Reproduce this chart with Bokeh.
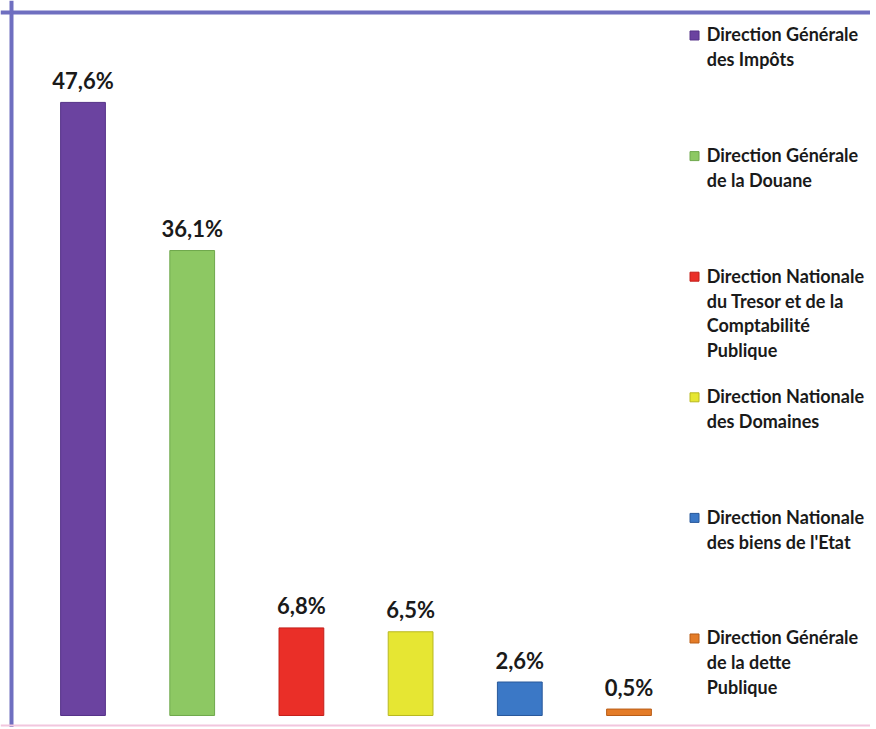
from bokeh.plotting import figure
from bokeh.models import Range1d, Span, ColumnDataSource
from bokeh.core.properties import value
from bokeh.embed import file_html
from bokeh.resources import INLINE

# ---- data ----
categories = [
    "Direction Générale\ndes Impôts",
    "Direction Générale\nde la Douane",
    "Direction Nationale\ndu Tresor et de la\nComptabilité\nPublique",
    "Direction Nationale\ndes Domaines",
    "Direction Nationale\ndes biens de l'Etat",
    "Direction Générale\nde la dette\nPublique",
]
shares = [47.6, 36.1, 6.8, 6.5, 2.6, 0.5]
share_labels = ["47,6%", "36,1%", "6,8%", "6,5%", "2,6%", "0,5%"]
colors = ["#6b43a0", "#8dc863", "#ea2f28", "#e6e633", "#3b78c6", "#e47c28"]
edge_colors = ["#553288", "#6fa84c", "#c41f1a", "#b8b820", "#28589a", "#b85e18"]

idx = list(range(len(shares)))

src = ColumnDataSource(dict(x=idx, top=shares, lab=share_labels,
                            color=colors, edge=edge_colors))

FONT = "Lato"

p = figure(width=870, height=727, output_backend="svg", toolbar_location=None,
           x_range=Range1d(-0.7555, 7.2115), y_range=Range1d(-0.932, 55.512),
           min_border=0)
p.axis.visible = False
p.grid.visible = False
p.outline_line_color = None
p.background_fill_color = "white"
p.border_fill_color = "white"

p.extra_y_ranges = {"leg": Range1d(start=5.8375, end=-0.1907)}

p.vbar(x="x", top="top", bottom=0, width=0.41, source=src,
       fill_color="color", line_color="edge", line_width=1)

p.text(x="x", y="top", text="lab", source=src, text_align="center",
       text_baseline="alphabetic", y_offset=-22,
       text_font=value(FONT), text_font_size="22px", text_font_style="bold",
       text_color="#1a1a1a")

# legend (manual, evenly spaced items)
leg_src = ColumnDataSource(dict(
    k=idx,
    km=[k + 12 / 120.6 for k in idx],
    lx=[5.600] * len(idx),
    tx=[5.712] * len(idx),
    text=categories,
    color=colors,
    edge=edge_colors,
))
p.scatter(x="lx", y="km", marker="square", size=9, source=leg_src,
          fill_color="color", line_color="edge", y_range_name="leg")
p.text(x="tx", y="k", text="text", source=leg_src, y_range_name="leg",
       text_align="left", text_baseline="top", text_font=value(FONT),
       text_font_size="18px", text_font_style="bold", text_line_height=1.13,
       text_color="#1a1a1a")

# frame border (top + left + faint bottom)
p.add_layout(Span(location=54.58, dimension="width", line_color="#6f6fc0",
                  line_width=4))
p.add_layout(Span(location=-0.6548, dimension="height", line_color="#6f6fc0",
                  line_width=4))
p.add_layout(Span(location=-0.776, dimension="width", line_color="#f2c6de",
                  line_width=2))

open("out.html", "w").write(file_html(p, INLINE))
